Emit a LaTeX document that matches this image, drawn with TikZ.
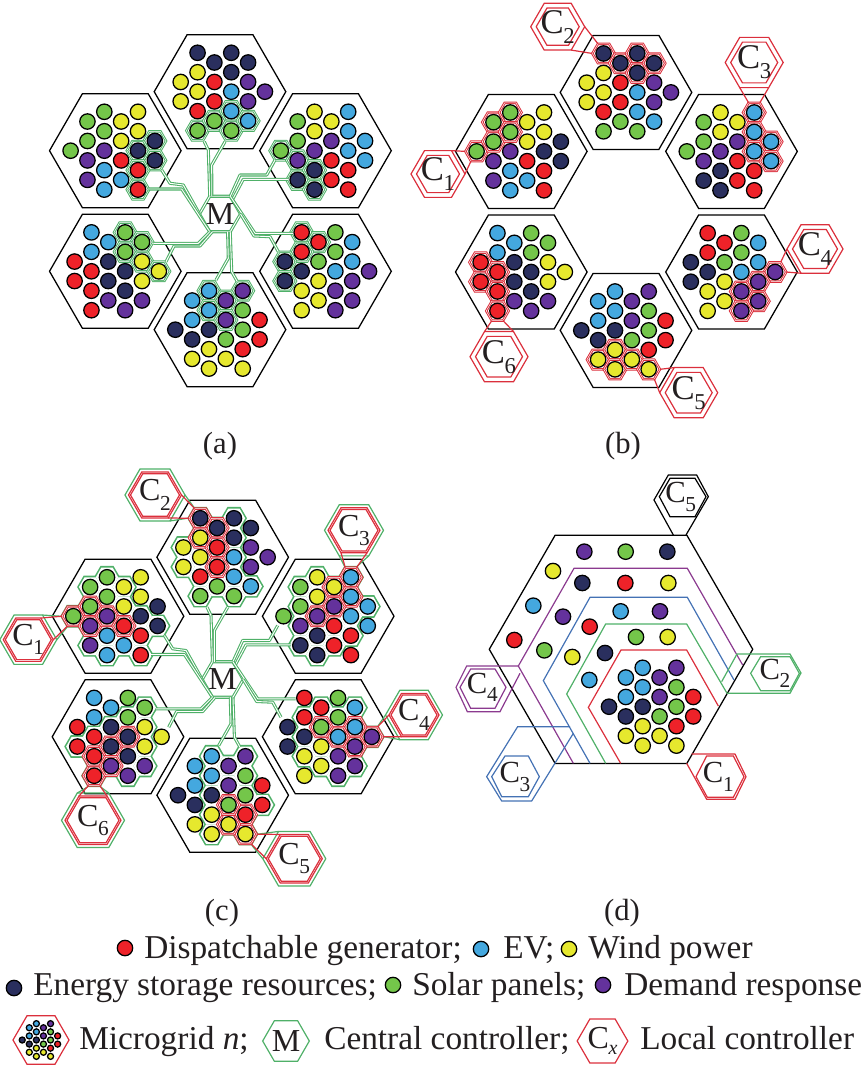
\documentclass[tikz,border=0pt]{standalone}
\usepackage{fontspec}
\setmainfont{Liberation Serif}
\usetikzlibrary{shapes.geometric}
\definecolor{cR}{HTML}{EE2229}
\definecolor{cB}{HTML}{44A8DF}
\definecolor{cY}{HTML}{E6E82E}
\definecolor{cN}{HTML}{2A2F5E}
\definecolor{cG}{HTML}{74C64A}
\definecolor{cP}{HTML}{64329C}
\definecolor{lnG}{HTML}{4FB068}
\definecolor{lnR}{HTML}{DB2F3C}
\definecolor{lnB}{HTML}{4472B4}
\definecolor{lnP}{HTML}{8B3A8F}
\definecolor{txt}{HTML}{231F20}
\def\cw{16.85}\def\rh{9.73}
\newcommand\setmg[5]{\expandafter\def\csname mgX#1\endcsname{#2}\expandafter\def\csname mgY#1\endcsname{#3}\expandafter\def\csname mgO#1\endcsname{#4}\expandafter\def\csname mgD#1\endcsname{#5}}
\setmg{T}{220}{91.7}{-39.3}{0/-1/Y,0/1/Y,1/-4/N,1/-2/Y,1/0/Y,1/2/R,1/4/G,2/-3/N,2/-1/R,2/1/R,2/3/G,3/-4/N,3/-2/N,3/0/B,3/2/B,3/4/G,4/-3/N,4/-1/P,4/1/P,4/3/B,5/0/P}
\setmg{A}{115.3}{150.7}{-44.7}{0/0/G,1/-3/G,1/-1/G,1/1/P,1/3/P,2/-4/G,2/-2/G,2/0/P,2/2/B,2/4/B,3/-3/Y,3/-1/Y,3/1/R,3/3/B,4/-4/Y,4/-2/Y,4/0/N,4/2/R,4/4/R,5/-1/N,5/1/N}
\setmg{D}{325.5}{150.7}{-44.7}{0/0/G,1/-3/G,1/-1/G,1/1/P,1/3/N,2/-4/Y,2/-2/Y,2/0/P,2/2/N,2/4/N,3/-3/Y,3/-1/P,3/1/R,3/3/R,4/-4/B,4/-2/B,4/0/B,4/2/R,4/4/R,5/-1/B,5/1/B}
\setmg{E}{115.3}{271.3}{-40.7}{0/-1/R,0/1/R,1/-4/B,1/-2/B,1/0/R,1/2/R,1/4/R,2/-3/B,2/-1/N,2/1/N,2/3/P,3/-4/G,3/-2/G,3/0/N,3/2/N,3/4/P,4/-3/G,4/-1/Y,4/1/Y,4/3/P,5/0/Y}
\setmg{F}{325.5}{271.3}{-40.7}{0/-1/N,0/1/N,1/-4/R,1/-2/R,1/0/N,1/2/Y,1/4/Y,2/-3/R,2/-1/G,2/1/Y,2/3/Y,3/-4/G,3/-2/G,3/0/B,3/2/P,3/4/P,4/-3/B,4/-1/B,4/1/P,4/3/P,5/0/P}
\setmg{B}{220}{329.7}{-44.7}{0/0/N,1/-3/B,1/-1/B,1/1/N,1/3/Y,2/-4/B,2/-2/B,2/0/N,2/2/Y,2/4/Y,3/-3/P,3/-1/P,3/1/G,3/3/Y,4/-4/P,4/-2/G,4/0/G,4/2/R,4/4/Y,5/-1/R,5/1/R}
\setmg{L}{0}{0}{-44.7}{0/0/N,1/-3/B,1/-1/B,1/1/N,1/3/Y,2/-4/B,2/-2/B,2/0/N,2/2/Y,2/4/Y,3/-3/P,3/-1/P,3/1/G,3/3/Y,4/-4/P,4/-2/G,4/0/G,4/2/R,4/4/Y,5/-1/R,5/1/R}
\newcommand\dotsOn[2][7.7]{\edef\tmpl{\csname mgD#2\endcsname}%
 \foreach \uu/\vv/\kk in \tmpl {\draw[dotline,fill=c\kk] ({\csname mgX#2\endcsname+\csname mgO#2\endcsname+\uu*\cw},{\csname mgY#2\endcsname+\vv*\rh}) circle[radius=#1];}}
\newcommand\cellsOn[3]{\edef\tmpc{#3}\foreach \uu/\vv in \tmpc {%
 \pgfmathsetmacro\hx{\csname mgX#1\endcsname+\csname mgO#1\endcsname+\uu*\cw}%
 \pgfmathsetmacro\hy{\csname mgY#1\endcsname+\vv*\rh}%
 \path[#2] (\hx+11.2,\hy) -- (\hx+5.6,\hy-9.7) -- (\hx-5.6,\hy-9.7) -- (\hx-11.2,\hy) -- (\hx-5.6,\hy+9.7) -- (\hx+5.6,\hy+9.7) -- cycle;}}
\newcommand\cellpts[4]{%
 \coordinate (#1L) at ({#2-11.2*#4},{#3});
 \coordinate (#1R) at ({#2+11.2*#4},{#3});
 \coordinate (#1UL) at ({#2-5.6*#4},{#3-9.7*#4});
 \coordinate (#1UR) at ({#2+5.6*#4},{#3-9.7*#4});
 \coordinate (#1LL) at ({#2-5.6*#4},{#3+9.7*#4});
 \coordinate (#1LR) at ({#2+5.6*#4},{#3+9.7*#4});}
\newcommand\targets[2]{% prefix, factor
 \cellpts{#1a}{70.6}{150.7}{#2}\cellpts{#1b}{197.55}{52.78}{#2}\cellpts{#1c}{348.2}{111.78}{#2}
 \cellpts{#1d}{369.05}{271.3}{#2}\cellpts{#1e}{242.7}{368.62}{#2}\cellpts{#1f}{91.45}{310.22}{#2}}
\newcommand\ties[3]{% style, node suffix, target prefix
 \draw[#1] (C1#2.60) -- (#3aL); \draw[#1] (C1#2.0) -- (#3aLL);
 \draw[#1] (C2#2.0) -- (#3bUL); \draw[#1] (C2#2.300) -- (#3bL);
 \draw[#1] (C3#2.240) -- (#3cUL); \draw[#1] (C3#2.300) -- (#3cUR);
 \draw[#1] (C4#2.180) -- (#3dUR); \draw[#1] (C4#2.240) -- (#3dR);
 \draw[#1] (C5#2.120) -- (#3eR); \draw[#1] (C5#2.180) -- (#3eLR);
 \draw[#1] (C6#2.120) -- (#3fLL); \draw[#1] (C6#2.60) -- (#3fLR);}
\newcommand\CS[4]{{\fontsize{#1}{#1}\selectfont C\kern-.01em\raisebox{-#3pt}{\fontsize{#2}{#2}\selectfont #4}}}
\newcommand\allhexes{\foreach \h in {T,A,D,E,F,B} {\node[mgbox] (h\h) at (\csname mgX\h\endcsname,\csname mgY\h\endcsname) {};}}
\newcommand\alldots{\foreach \h in {T,A,D,E,F,B} {\dotsOn{\h}}}
\newcommand\network{%
 \coordinate (e1) at (204.3,141.7); \coordinate (e2) at (225,141.7);
 \coordinate (e3) at (275,160); \coordinate (e4) at (288.3,179.3);
 \coordinate (e5) at (161.7,170); \coordinate (e6) at (148.3,189);
 \coordinate (e7) at (293,233.3); \coordinate (e8) at (278.3,251.7);
 \coordinate (e9) at (153.3,243.3); \coordinate (e10) at (166,261.7);
 \coordinate (e11) at (216,280); \coordinate (e12) at (237.3,281.7);
 \node[hex,minimum size=41*0.75pt,draw=lnG,fill=white,double=white,double distance=.7pt,line width=.8pt,label={[text=txt,font=\fontsize{24}{24}\selectfont]center:M}] (M) at (220,214) {};
 \draw[link] (M.120) -- (208.3,150) -- (e1);
 \draw[link] ([xshift=1.5pt]M.120) -- (211.7,165) -- (e2);
 \draw[link] (M.60) -- (240,175) -- (266.7,175) -- (e3);
 \draw[link] ([xshift=2pt,yshift=-2pt]M.60) -- (243.3,179.3) -- (e4);
 \draw[link] (M.180) -- (183.3,185) -- (170,183.3) -- (e5);
 \draw[link] (M.240) -- (181.7,189) -- (e6);
 \draw[link] (M.60) -- (255,233.3) -- (e7);
 \draw[link] (M.0) -- (254,236) -- (270,236.7) -- (e8);
 \draw[link] (M.240) -- (198.3,243.3) -- (e9);
 \draw[link] ([xshift=2pt]M.240) -- (200,246) -- (174,246) -- (e10);
 \draw[link] ([xshift=-2pt]M.300) -- (228.3,258.3) -- (e11);
 \draw[link] (M.300) -- (231.7,271.7) -- (e12);
}
\tikzset{x=0.75pt,y=-0.75pt,
 dotline/.style={draw=black,line width=.95pt},
 hex/.style={regular polygon,regular polygon sides=6,inner sep=0pt,outer sep=0pt},
 mgbox/.style={hex,draw=black,line width=.95pt,minimum size=98.7pt},
 link/.style={draw=lnG,double=white,double distance=.7pt,line width=.8pt,line join=round},
 comb/.style={draw=lnG,double=white,double distance=.35pt,line width=.75pt},
 combR/.style={draw=lnR,double=white,double distance=.35pt,line width=.75pt},
 hullA/.style={draw=lnG,line width=2.4pt},
 hullB/.style={fill=white},
 tieR/.style={draw=lnR,line width=.9pt},
 tieG/.style={draw=lnG,line width=.9pt},
 capt/.style={text=txt,font=\fontsize{23}{23}\selectfont},
 leg/.style={text=txt,font=\fontsize{25}{25}\selectfont,anchor=base west,inner sep=0pt},
}
\begin{document}
\begin{tikzpicture}
\useasboundingbox (0,0) rectangle (861,1067);
% ---------- (a)
\begin{scope}[name prefix=a-]
\allhexes
\cellsOn{T}{comb}{1/4,2/3,3/2,3/4,4/3}
\cellsOn{A}{comb}{5/-1,4/0,5/1,4/2,4/4}
\cellsOn{D}{comb}{0/0,1/1,1/3,2/2,2/4}
\cellsOn{E}{comb}{3/-4,4/-3,3/-2,4/-1,5/0}
\cellsOn{F}{comb}{1/-4,2/-3,1/-2,0/-1,0/1}
\cellsOn{B}{comb}{2/-4,4/-4,3/-3,2/-2,3/-1}
\network
\alldots
\end{scope}
\node[capt] (capa) at (220,446) {(a)};
% ---------- (b)
\begin{scope}[shift={(406,0.7)},name prefix=b-]
\allhexes
\cellsOn{T}{combR}{1/-4,2/-3,3/-4,3/-2,4/-3}
\cellsOn{A}{combR}{0/0,1/-3,1/-1,2/-4,2/-2}
\cellsOn{D}{combR}{4/-4,4/-2,5/-1,4/0,5/1}
\cellsOn{E}{combR}{0/-1,0/1,1/0,1/2,1/4}
\cellsOn{F}{combR}{5/0,4/1,3/2,4/3,3/4}
\cellsOn{B}{combR}{1/3,2/2,2/4,3/3,4/4}
\alldots
\targets{t}{1}
\foreach \n/\xx/\yy/\dd in {1/32/173.3/54,2/151.7/26/54,3/348.2/61.8/58,4/409/248.3/56,5/282.7/392/58,6/93/356/58}{
 \node[hex,draw=lnR,line width=.9pt,minimum size={\dd*0.75pt}] (C\n) at (\xx,\yy) {};
 \node[hex,draw=lnR,line width=.9pt,minimum size={(\dd-11)*0.75pt},label={[text=txt]center:\CS{26}{17}{7.5}{\n}}] (I\n) at (\xx,\yy) {};
}
\ties{tieR}{}{t}
\end{scope}
\node[capt] (capb) at (623,446) {(b)};
% ---------- (c)
\begin{scope}[shift={(2.7,465.5)},name prefix=c-]
\allhexes
\def\gT{1/-4,2/-3,3/-4,3/-2,1/-2,0/-1,0/1,1/0,2/-1,2/1,1/2,1/4,2/3,3/4,3/2,3/0,4/3}
\def\gA{0/0,1/-3,1/-1,1/1,1/3,2/-4,2/-2,2/0,2/2,2/4,3/-3,3/-1,3/1,3/3,4/0,4/2,4/4,5/1}
\def\gD{1/-3,2/-4,2/-2,3/-3,3/-1,2/0,1/-1,1/1,4/-4,4/-2,4/0,4/2,5/-1,3/1,3/3,2/2,2/4,1/3}
\def\gE{4/-3,3/-2,4/-1,0/1,1/0,1/2,1/4,2/-1,2/1,2/3,3/0,3/2,3/4,4/1,4/3}
\def\gF{1/-2,1/0,1/2,2/-3,2/-1,2/1,2/3,3/-2,3/0,3/2,3/4,4/-3,4/-1,4/1,4/3,5/0}
\def\gB{2/-4,4/-4,3/-3,2/-2,4/-2,3/-1,2/0,3/1,4/0,4/2,5/1,2/2,3/3,4/4,2/4}
\cellsOn{T}{hullA}{\gT}\cellsOn{A}{hullA}{\gA}\cellsOn{D}{hullA}{\gD}\cellsOn{E}{hullA}{\gE}\cellsOn{F}{hullA}{\gF}\cellsOn{B}{hullA}{\gB}
\cellsOn{T}{hullB}{\gT}\cellsOn{A}{hullB}{\gA}\cellsOn{D}{hullB}{\gD}\cellsOn{E}{hullB}{\gE}\cellsOn{F}{hullB}{\gF}\cellsOn{B}{hullB}{\gB}
\cellsOn{T}{combR}{1/-4,2/-3,1/-2,2/-1,2/1}
\cellsOn{A}{combR}{0/0,1/-1,1/1,2/0,3/1}
\cellsOn{D}{combR}{4/-4,3/-3,4/-2,3/-1,2/0}
\cellsOn{E}{combR}{1/4,1/2,2/1,3/0,2/3}
\cellsOn{F}{combR}{5/0,4/-1,4/1,3/0,2/-1}
\cellsOn{B}{combR}{4/4,4/2,3/3,3/1}
\network
\targets{t}{1}\targets{g}{1.15}
\foreach \n/\xx/\yy/\dd in {1/25.6/174.2/57,2/152.3/29.5/60,3/351.3/64.8/59,4/411.3/249.5/57,5/291.6/393.2/63,6/90.3/354.8/63}{
 \node[hex,draw=lnG,line width=.9pt,minimum size={\dd*0.75pt}] (C\n g) at (\xx,\yy) {};
 \node[hex,draw=lnR,line width=.9pt,minimum size={(\dd-7)*0.75pt}] (C\n) at (\xx,\yy) {};
 \node[hex,draw=lnR,line width=.9pt,minimum size={(\dd-11)*0.75pt},label={[text=txt]center:\CS{24}{16}{7}{\n}}] (I\n) at (\xx,\yy) {};
}
\ties{tieG}{g}{g}
\ties{tieR}{}{t}
\alldots
\end{scope}
\node[capt] (capc) at (222,913) {(c)};
% ---------- (d)
\node[mgbox,minimum size=197.6pt] (Dhex) at (621,649.3) {};
\begin{scope}[shift={(450,470)},scale=1/3]
 \draw[tieR] (512,880) -- (415,712) -- (513,540) -- (710,540) -- (805,708);
 \draw[tieG] (467,880) -- (350,672) -- (467,462) -- (710,462) -- (830,668);
 \draw[draw=lnB,line width=.9pt] (420,880) -- (280,632) -- (420,382) -- (712,382) -- (852,630);
 \draw[draw=lnP,line width=.9pt] (370,880) -- (205,588) -- (372,295) -- (712,295) -- (878,585);
 % C1
 \draw[tieR,line join=round] (725,852) -- (855,852) -- (888,920) -- (855,988) -- (770,988) -- (710,880);
 \draw[tieR] (770,858) -- (850,858) -- (882,920) -- (850,982) -- (772,982) -- (738,920) -- cycle;
 \node[text=txt] (dC1) at (805,920) {\CS{23}{16}{6.5}{1}};
 % C2
 \draw[tieG] (815,635) -- (861,552) -- (1020,552) -- (1053,609) -- (1020,670) -- (830,670);
 \draw[tieG] (902,610) -- (932,560) -- (1020,560) -- (1048,610) -- (1020,662) -- (932,662) -- cycle;
 \node[text=txt] (dC2) at (975,610) {\CS{23}{16}{6.5}{2}};
 % C3
 \draw[draw=lnB,line width=.9pt] (360,770) -- (203,770) -- (110,920) -- (155,993) -- (245,993) -- (370,790);
 \draw[draw=lnB,line width=.9pt] (125,920) -- (165,858) -- (235,858) -- (268,920) -- (235,980) -- (155,980) -- cycle;
 \node[text=txt] (dC3) at (195,920) {\CS{23}{16}{6.5}{3}};
 % C4
 \draw[draw=lnP,line width=.9pt] (205,588) -- (50,588) -- (18,652) -- (52,725) -- (150,725) -- (210,610);
 \draw[draw=lnP,line width=.9pt] (30,652) -- (62,597) -- (135,597) -- (168,652) -- (135,715) -- (62,715) -- cycle;
 \node[text=txt] (dC4) at (97,652) {\CS{23}{16}{6.5}{4}};
 % C5
 \draw[draw=black,line width=.9pt] (670,195) -- (612,90) -- (655,15) -- (740,15) -- (775,80) -- (708,195);
 \draw[draw=black,line width=.9pt] (628,80) -- (660,25) -- (735,25) -- (768,80) -- (735,140) -- (660,140) -- cycle;
 \node[text=txt] (dC5) at (692,80) {\CS{23}{16}{6.5}{5}};
 % dots of the rings
 \foreach \xx/\yy/\kk in {403/245/P,527/245/G,652/245/N,309/303/Y,250/407/B,193/510/R,397/339/N,526/339/R,655/339/Y,339/440/P,283/541/G,512/424/B,630/424/P,419/470/R,367/561/Y,558/501/G,653/501/Y,465/549/N,418/630/B}
  {\draw[dotline,fill=c\kk] (\xx,\yy) circle[radius=23.1];}
\end{scope}
\begin{scope}[shift={(653.7,706.7)}]
 \dotsOn{L}
\end{scope}
\node[capt] (capd) at (622,913) {(d)};
% ---------- legend
\draw[dotline,fill=cR] (125,948) circle[radius=7.7];
\node[leg] (l1) at (144,958) {Dispatchable generator;};
\draw[dotline,fill=cB] (481,949) circle[radius=7.7];
\node[leg] (l2) at (503,958) {EV;};
\draw[dotline,fill=cY] (569,949) circle[radius=7.7];
\node[leg] (l3) at (588,958) {Wind power};
\draw[dotline,fill=cN] (14,988) circle[radius=7.7];
\node[leg] (l4) at (33,995) {Energy storage resources;};
\draw[dotline,fill=cG] (393,985) circle[radius=7.7];
\node[leg] (l5) at (412,995) {Solar panels;};
\draw[dotline,fill=cP] (603,985) circle[radius=7.7];
\node[leg] (l6) at (624,995) {Demand response};
\node[hex,draw=lnR,line width=.9pt,minimum size=42pt] (lgM) at (41,1040) {};
\begin{scope}[shift={(41,1040)},scale=.42]
 \dotsOn[7.2]{L}
\end{scope}
\node[leg] (l7) at (79,1049) {Microgrid \textit{n};};
\node[hex,draw=lnG,line width=.9pt,minimum size=35pt,label={[text=txt,font=\fontsize{24}{24}\selectfont]center:M}] (lgC) at (286,1041) {};
\node[leg] (l8) at (324,1049) {Central controller;};
\node[hex,draw=lnR,line width=.9pt,minimum size=38pt,label={[text=txt]center:\CS{24}{15}{5}{\textit{x}}}] (lgL) at (602.5,1041) {};
\node[leg] (l9) at (640,1049) {Local controller};
\end{tikzpicture}
\end{document}
